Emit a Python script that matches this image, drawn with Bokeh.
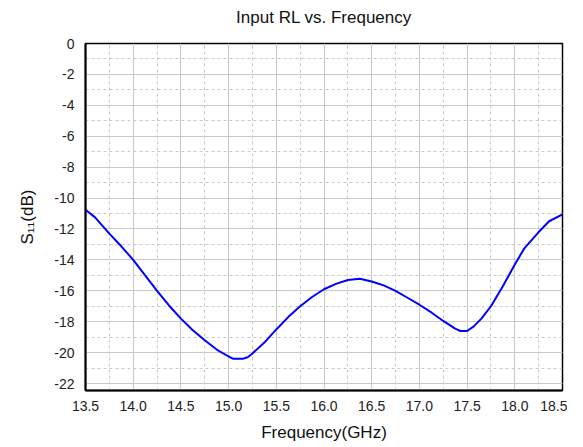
from bokeh.plotting import figure
from bokeh.models import Range1d, FixedTicker, Title
from bokeh.embed import file_html
from bokeh.resources import INLINE

freq_ghz = [13.5, 13.6, 13.75, 13.875, 14.0, 14.125, 14.25, 14.375, 14.5, 14.625,
            14.75, 14.875, 15.0, 15.05, 15.15, 15.2, 15.25, 15.375, 15.5, 15.625, 15.75,
            15.875, 16.0, 16.125, 16.25, 16.375, 16.5, 16.625, 16.75, 16.875, 17.0,
            17.125, 17.25, 17.375, 17.43, 17.5, 17.57, 17.65, 17.75, 17.87, 18.0, 18.1,
            18.25, 18.36, 18.5]
s11_db = [-10.75, -11.25, -12.3, -13.12, -14.0, -15.0, -16.0, -16.95, -17.8, -18.55,
          -19.2, -19.8, -20.25, -20.4, -20.4, -20.3, -20.05, -19.35, -18.5, -17.7, -17.0,
          -16.4, -15.9, -15.55, -15.3, -15.22, -15.4, -15.65, -16.0, -16.45, -16.9,
          -17.4, -17.95, -18.45, -18.6, -18.6, -18.3, -17.8, -17.0, -15.75, -14.3, -13.25,
          -12.2, -11.5, -11.05]

x_ticks = [13.5, 14.0, 14.5, 15.0, 15.5, 16.0, 16.5, 17.0, 17.5, 18.0, 18.5]
y_ticks = [0, -2, -4, -6, -8, -10, -12, -14, -16, -18, -20, -22]
title_text = "Input RL vs. Frequency"

FONT = "Liberation Sans"

p = figure(width=567, height=447, output_backend="svg", toolbar_location=None,
           title=None,
           x_range=Range1d(13.5, 18.5), y_range=Range1d(-22.45, 0),
           min_border_left=85, min_border_right=5, min_border_top=0, min_border_bottom=57)

# small spacer between the frame and the title (nearest to the frame)
p.add_layout(Title(text="\u00a0", text_font_size="1px", standoff=9,
                   text_color="white"), "above")
# main title
p.add_layout(Title(text=title_text, align="center", text_font=FONT,
                   text_font_size="17px", text_font_style="normal",
                   text_color="#111111", offset=3, standoff=10), "above")

p.line(freq_ghz, s11_db, line_color="#0000ff", line_width=2)

p.xaxis.ticker = FixedTicker(ticks=x_ticks, minor_ticks=[13.5 + 0.25 * i for i in range(21)])
p.yaxis.ticker = FixedTicker(ticks=y_ticks, minor_ticks=[-i for i in range(23)])
p.xaxis.major_label_overrides = {t: f"{t:.1f}" for t in x_ticks}
p.yaxis.major_label_overrides = {t: str(t) for t in y_ticks}

for ax in (p.xaxis[0], p.yaxis[0]):
    ax.major_tick_line_color = None
    ax.minor_tick_line_color = None
    ax.axis_line_color = "black"
    ax.axis_line_width = 2
    ax.major_label_text_font = FONT
    ax.major_label_text_font_size = "14px"
    ax.major_label_text_color = "#222222"
    ax.axis_label_text_font = FONT
    ax.axis_label_text_font_size = "17px"
    ax.axis_label_text_font_style = "normal"
    ax.axis_label_text_color = "#111111"

p.xaxis.axis_label = "Frequency(GHz)"
p.yaxis.axis_label = "S\u2081\u2081(dB)"
p.xaxis.major_label_standoff = 4
p.yaxis.major_label_standoff = 5
p.xaxis.axis_label_standoff = 9
p.yaxis.axis_label_standoff = 14

p.outline_line_color = "black"
p.outline_line_width = 1.5
p.outline_line_alpha = 1

for g in (p.xgrid[0], p.ygrid[0]):
    g.grid_line_color = "#c8c8c8"
    g.grid_line_width = 1
    g.minor_grid_line_color = "#c8c8c8"
    g.minor_grid_line_dash = "3 3"
    g.minor_grid_line_width = 1

p.background_fill_color = "white"
p.border_fill_color = "white"

open("out.html", "w").write(file_html(p, INLINE))
